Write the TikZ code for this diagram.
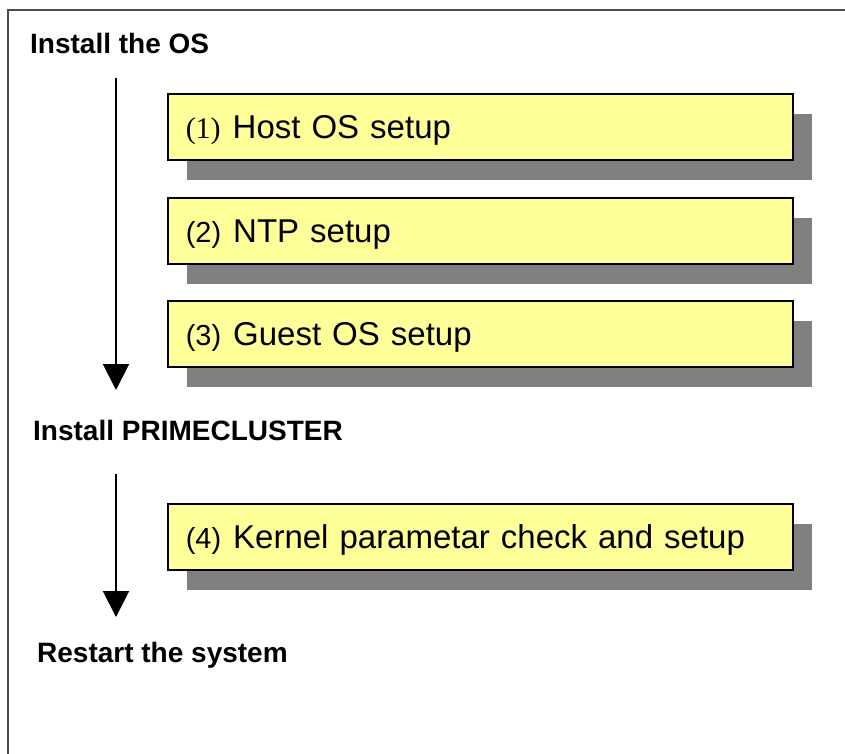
\documentclass[tikz,border=0pt]{standalone}
\usepackage{fontspec}
\setmainfont{Liberation Sans}
\newfontfamily\numserif{Liberation Serif}
\usetikzlibrary{arrows.meta,shadows}
\definecolor{stepyellow}{HTML}{FFFF99}
\definecolor{shadowgray}{HTML}{808080}
\newcommand{\stepnum}[1]{{\fontsize{29}{32}\selectfont #1}\hspace{12pt}}
\begin{document}
\begin{tikzpicture}[x = 1pt, y = -1pt,
    stepbox/.style = {draw = black, line width = 1.5pt, fill = stepyellow, anchor = north west,
      minimum width = 625pt, minimum height = 66pt, inner xsep = 18pt, inner ysep = 0pt,
      text width = 589pt, align = left, text height = 23pt, text depth = 0pt,
      font = \fontsize{33}{40}\selectfont,
      drop shadow = {shadow xshift = 19pt, shadow yshift = -20pt, fill = shadowgray, opacity = 1}},
    phase/.style = {anchor = base west, inner sep = 0pt, font = \fontsize{28}{32}\selectfont\bfseries},
    flow/.style = {line width = 2pt, -{Triangle[length = 26pt, width = 26pt]}}]
		\useasboundingbox (0, 0) rectangle (845, 753);
		%%%%%%%%%%%%%
		\draw[black!70, line width = 2.5pt] (850, 10) -- (8, 10) -- (8, 760);
		%%%%%%%%%%%%%
		\node[phase] (os) at (30, 53) {Install the OS};
		\node[phase] (pc) at (33, 440) {Install PRIMECLUSTER};
		\node[phase] (rs) at (37, 662) {Restart the system};
		%%%%%%%%%%%%%
		\node[stepbox] (s1) at (167, 93) {{\numserif\fontsize{30}{32}\selectfont (1)}\hspace{12pt}Host OS setup};
		\node[stepbox] (s2) at (167, 197) {\stepnum{(2)}NTP setup};
		\node[stepbox] (s3) at (167, 300) {\stepnum{(3)}Guest OS setup};
		\node[stepbox] (s4) at (167, 503) {\stepnum{(4)}Kernel parametar check and setup};
		%%%%%%%%%%%%%
		\coordinate (t1) at (116, 78);
		\coordinate (h1) at (116, 390);
		\coordinate (t2) at (116, 474);
		\coordinate (h2) at (116, 617);
		\draw[flow] (t1) -- (h1);
		\draw[flow] (t2) -- (h2);
		%%%%%%%%%%%%%%
\end{tikzpicture}
\end{document}
